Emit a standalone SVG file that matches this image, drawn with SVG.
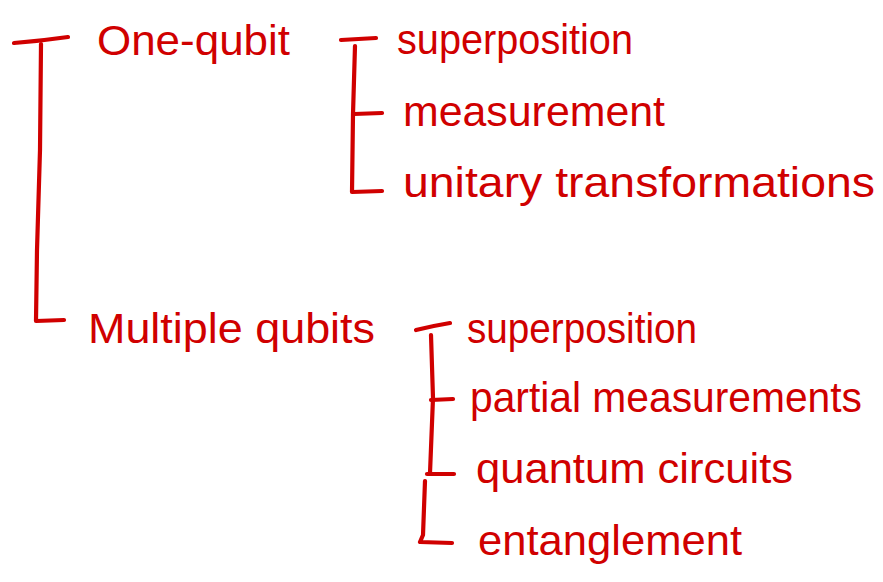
<svg xmlns="http://www.w3.org/2000/svg" width="883" height="582" viewBox="0 0 883 582">
<style>
  .ln{fill:none;stroke:#d00000;stroke-width:4.2;stroke-linecap:round;stroke-linejoin:round}
  .tx{fill:#d00000;font-family:"Liberation Sans","DejaVu Sans",sans-serif;font-size:42px}
</style>
<rect width="883" height="582" fill="#ffffff"/>
<g id="connectors">
  <path class="ln" d="M14,43 Q40,41 68,37"/>
  <path class="ln" d="M41,44 L40,150 L37,250 L36,321 L64,320"/>
  <path class="ln" d="M341,40 L376,38"/>
  <path class="ln" d="M355,46 L353,114 L352,192 L382,191"/>
  <path class="ln" d="M354,114 L382,113"/>
  <path class="ln" d="M416,330 Q432,326 450,323"/>
  <path class="ln" d="M431,335 L433,398 L430,473"/>
  <path class="ln" d="M431,400 L453,399"/>
  <path class="ln" d="M427,474 L454,474"/>
  <path class="ln" d="M425,481 L423,535 L420,542 L452,543"/>
</g>
<g id="one-qubit"><text class="tx" x="97" y="55" textLength="193" lengthAdjust="spacingAndGlyphs">One-qubit</text></g>
<g id="superposition-1"><text class="tx" x="397" y="54" textLength="236" lengthAdjust="spacingAndGlyphs">superposition</text></g>
<g id="measurement"><text class="tx" x="403" y="126" textLength="262" lengthAdjust="spacingAndGlyphs">measurement</text></g>
<g id="unitary-transformations"><text class="tx" x="403" y="197" textLength="472" lengthAdjust="spacingAndGlyphs">unitary transformations</text></g>
<g id="multiple-qubits"><text class="tx" x="88" y="343" textLength="287" lengthAdjust="spacingAndGlyphs">Multiple qubits</text></g>
<g id="superposition-2"><text class="tx" x="467" y="343" textLength="230" lengthAdjust="spacingAndGlyphs">superposition</text></g>
<g id="partial-measurements"><text class="tx" x="470" y="412" textLength="392" lengthAdjust="spacingAndGlyphs">partial measurements</text></g>
<g id="quantum-circuits"><text class="tx" x="476" y="483" textLength="317" lengthAdjust="spacingAndGlyphs">quantum circuits</text></g>
<g id="entanglement"><text class="tx" x="478" y="555" textLength="264" lengthAdjust="spacingAndGlyphs">entanglement</text></g>
</svg>
